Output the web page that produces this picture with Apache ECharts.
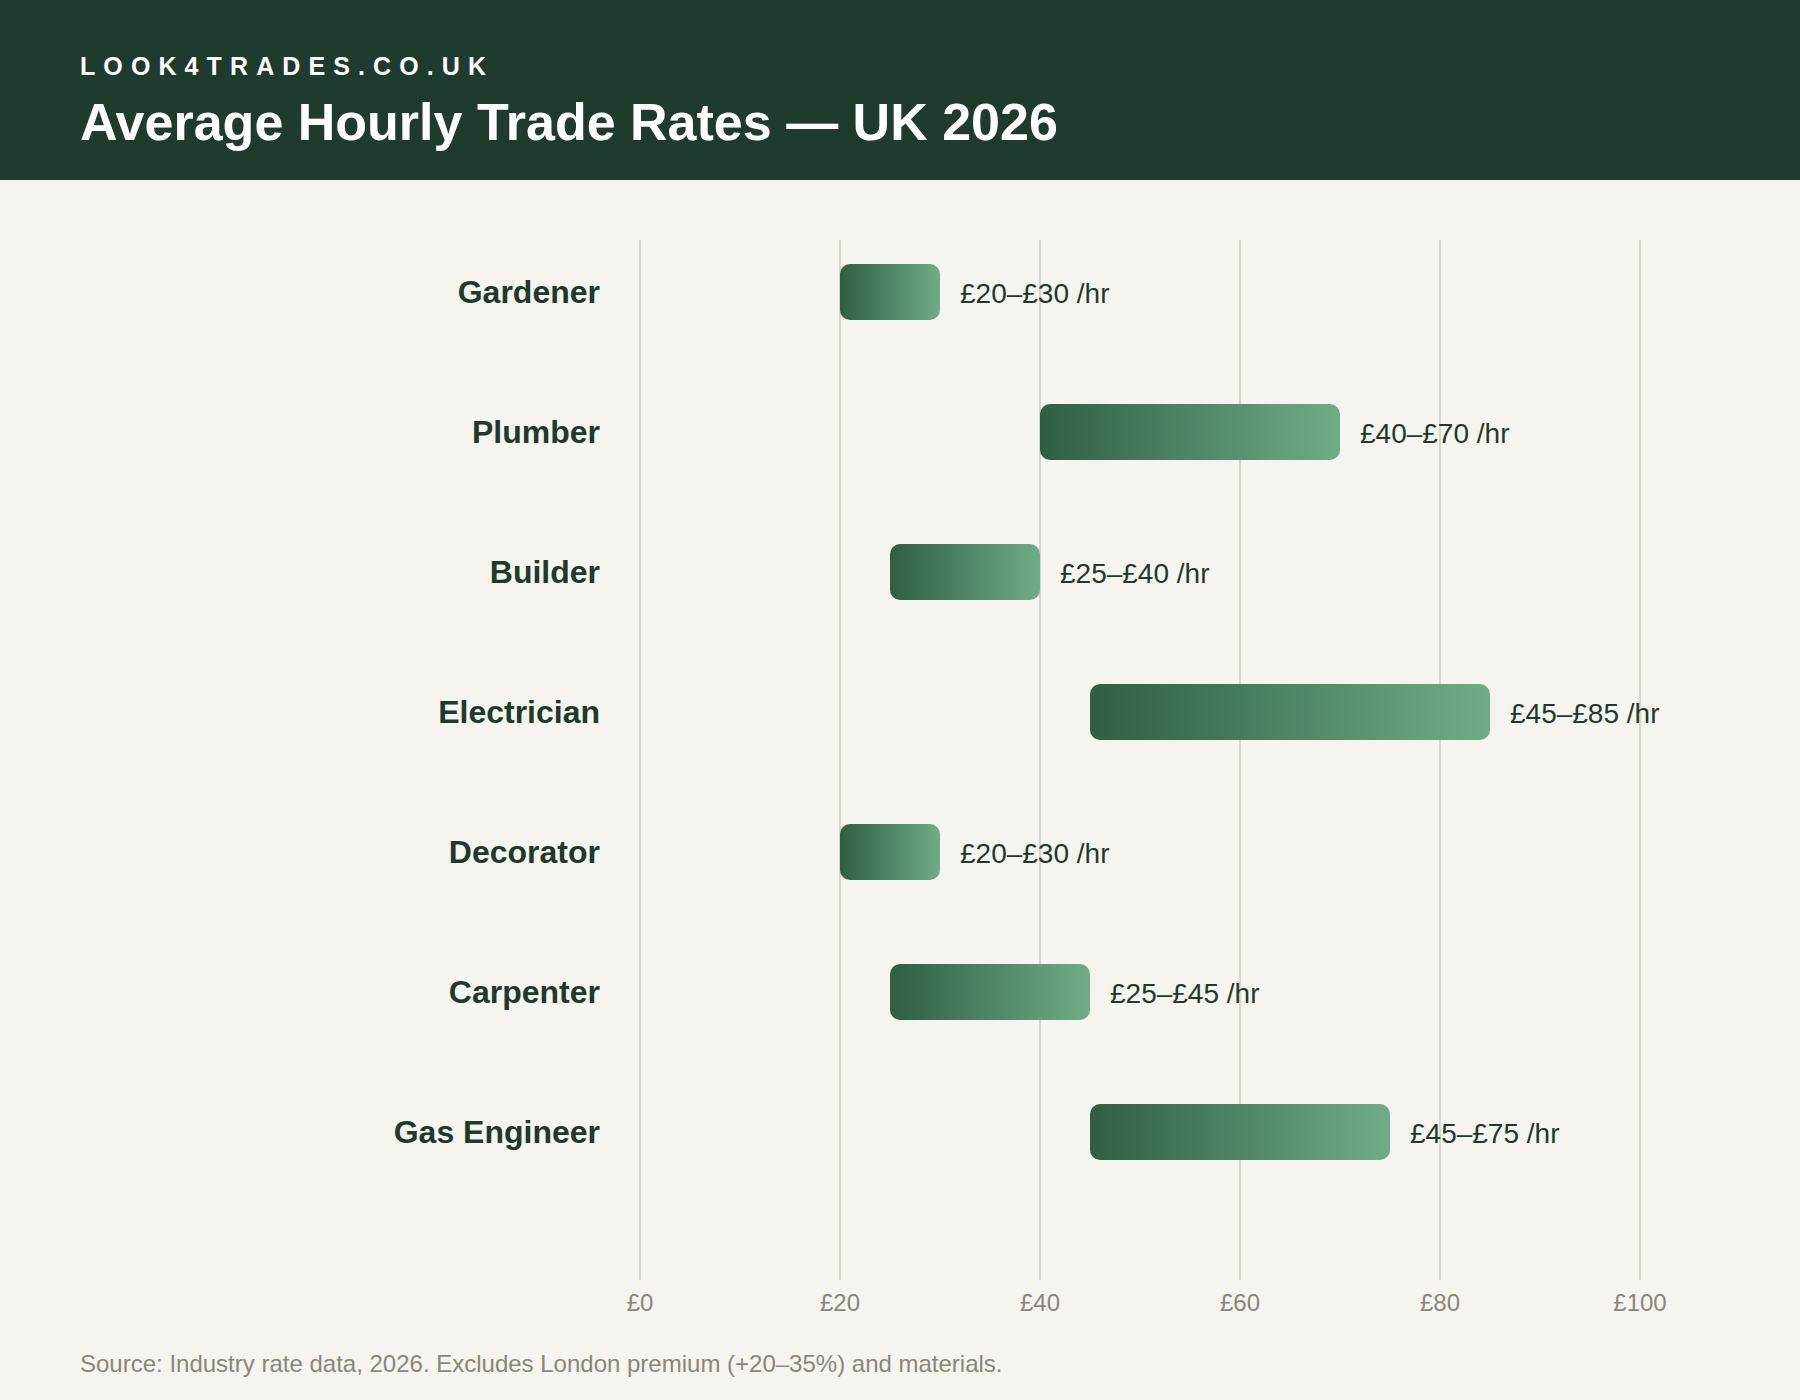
<!DOCTYPE html>
<html>
<head>
<meta charset="utf-8">
<title>Average Hourly Trade Rates — UK 2026</title>
<script src="https://cdn.jsdelivr.net/npm/echarts@6/dist/echarts.min.js"></script>
<style>
  html, body { margin: 0; padding: 0; background: #f5f4ef; }
  #main { width: 1800px; height: 1400px; }
</style>
</head>
<body>
<div id="main"></div>
<script>
// trades, top to bottom
var trades = ['Gardener', 'Plumber', 'Builder', 'Electrician', 'Decorator', 'Carpenter', 'Gas Engineer'];
// hourly rate range, £
var lowRates = [20, 40, 25, 45, 20, 25, 45];
var highRates = [30, 70, 40, 85, 30, 45, 75];
// axis ticks
var axisMin = 0;
var axisMax = 100;
var axisStep = 20;

var FONT = "'Liberation Sans', Arial, sans-serif";
var DARK = '#1f3a2c';

var spans = [];
for (var i = 0; i < trades.length; i++) {
  spans.push(highRates[i] - lowRates[i]);
}

var chart = echarts.init(document.getElementById('main'), null, { renderer: 'svg' });

var option = {
  backgroundColor: '#f5f4ef',
  animation: false,
  textStyle: { fontFamily: FONT },
  graphic: [
    {
      type: 'rect',
      left: 0, top: 0, z: 0,
      shape: { width: 1800, height: 180 },
      style: { fill: '#1f3b2d' }
    },
    {
      type: 'text',
      id: 'kicker',
      left: 80, top: 53,
      style: {
        text: 'LOOK4TRADES.CO.UK',
        fill: '#ffffff',
        font: 'bold 25px ' + FONT
      }
    },
    {
      type: 'text',
      left: 80, top: 96,
      style: {
        text: 'Average Hourly Trade Rates — UK 2026',
        fill: '#ffffff',
        font: 'bold 52px ' + FONT
      }
    },
    {
      type: 'text',
      left: 80, top: 1351,
      style: {
        text: 'Source: Industry rate data, 2026. Excludes London premium (+20–35%) and materials.',
        fill: '#8a877a',
        font: '24px ' + FONT
      }
    }
  ],
  grid: [
    // gridlines + tick labels
    { left: 640, width: 1000, top: 240, height: 1040 },
    // bars
    { left: 640, width: 1000, top: 222, height: 980 }
  ],
  xAxis: [
    {
      gridIndex: 0,
      type: 'value',
      min: axisMin, max: axisMax, interval: axisStep,
      axisLine: { show: false },
      axisTick: { show: false },
      splitLine: { lineStyle: { color: '#d9d6ca', width: 2 } },
      axisLabel: {
        margin: 10,
        fontSize: 24,
        color: '#8a877a',
        fontFamily: FONT,
        formatter: function (v) { return '£' + v; }
      }
    },
    {
      gridIndex: 1,
      type: 'value',
      min: axisMin, max: axisMax,
      show: false
    }
  ],
  yAxis: [
    {
      gridIndex: 0,
      type: 'value',
      show: false
    },
    {
      gridIndex: 1,
      type: 'category',
      inverse: true,
      data: trades,
      axisLine: { show: false },
      axisTick: { show: false },
      splitLine: { show: false },
      axisLabel: {
        margin: 40,
        fontSize: 32,
        fontWeight: 'bold',
        color: DARK,
        fontFamily: FONT,
        padding: [0, 0, 8, 0]
      }
    }
  ],
  series: [
    {
      name: 'base',
      type: 'bar',
      xAxisIndex: 1,
      yAxisIndex: 1,
      stack: 'range',
      silent: true,
      barWidth: 56,
      itemStyle: { color: 'rgba(0,0,0,0)' },
      data: lowRates
    },
    {
      name: 'range',
      type: 'bar',
      xAxisIndex: 1,
      yAxisIndex: 1,
      stack: 'range',
      barWidth: 56,
      itemStyle: {
        borderRadius: 10,
        color: new echarts.graphic.LinearGradient(0, 0, 1, 0, [
          { offset: 0, color: '#2f5e44' },
          { offset: 1, color: '#70ac88' }
        ])
      },
      label: {
        show: true,
        position: 'right',
        distance: 20,
        offset: [0, 1],
        fontSize: 28,
        color: DARK,
        fontFamily: FONT,
        formatter: function (p) {
          return '£' + lowRates[p.dataIndex] + '–£' + highRates[p.dataIndex] + ' /hr';
        }
      },
      data: spans
    }
  ]
};

chart.setOption(option);

// spaced-out kicker text (svg renderer)
function spaceKicker() {
  var texts = document.querySelectorAll('#main svg text');
  for (var i = 0; i < texts.length; i++) {
    if (texts[i].textContent === 'LOOK4TRADES.CO.UK') {
      texts[i].style.letterSpacing = '8.1px';
    }
  }
}
chart.on('finished', spaceKicker);
setTimeout(spaceKicker, 50);
setTimeout(spaceKicker, 300);
</script>
</body>
</html>
